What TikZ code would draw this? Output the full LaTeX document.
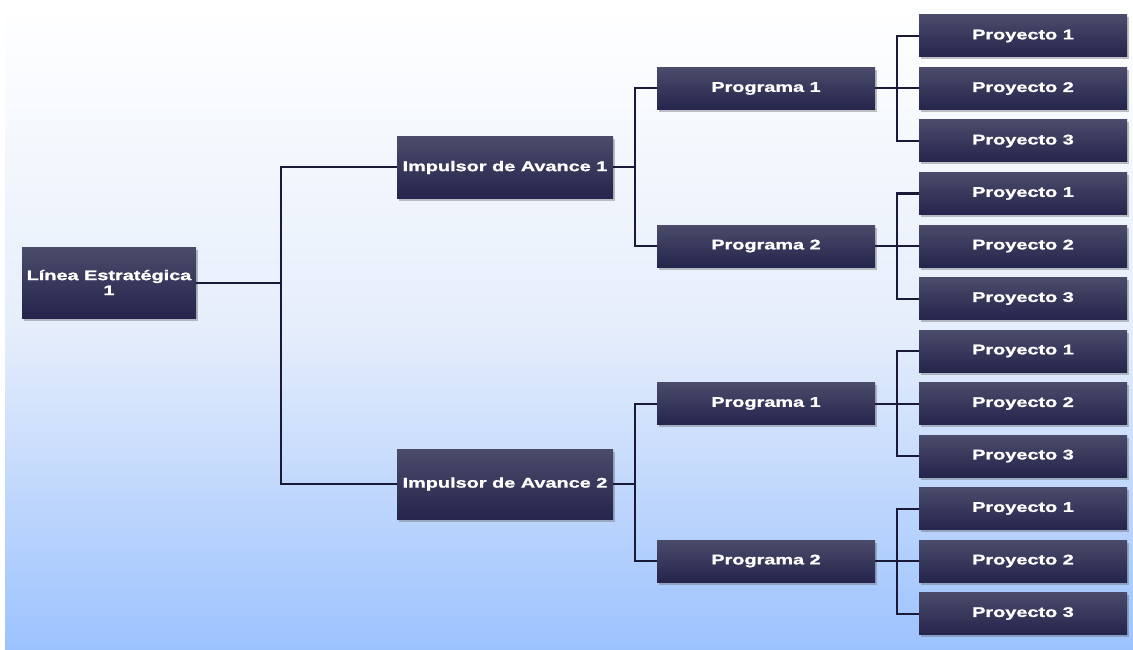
\documentclass[tikz,border=0pt]{standalone}
\usepackage{fontspec}
\newfontfamily\boxfont{Liberation Sans}[FakeStretch=1.42, BoldFeatures={FakeBold=1.3}]
\usetikzlibrary{shadows}
\definecolor{boxtop}{HTML}{4B4B6B}
\definecolor{boxbot}{HTML}{25254D}
\definecolor{linec}{HTML}{1A1A38}
\definecolor{bgbot}{HTML}{9CC2FE}
\definecolor{bgmid}{HTML}{E6EEFB}
\pgfdeclareverticalshading{bgshade}{100bp}{color(0bp)=(bgbot); color(25bp)=(bgbot); color(50bp)=(bgmid); color(75bp)=(white); color(100bp)=(white)}
\tikzset{
  box/.style={draw=none, top color=boxtop, bottom color=boxbot, text=white,
    font=\boxfont\bfseries\fontsize{14}{15}\selectfont, align=center, inner sep=0pt,
    drop shadow={shadow xshift=1.5pt, shadow yshift=-2.5pt, opacity=0.4, fill=black!60}},
  topbox/.style={box, minimum width=174pt, minimum height=71pt},
  impbox/.style={box, minimum width=216pt},
  progbox/.style={box, minimum width=218pt, minimum height=42pt},
  projbox/.style={box, minimum width=208pt, minimum height=42pt},
  conn/.style={draw=linec, line width=2pt}
}
\begin{document}
\begin{tikzpicture}[x=1pt, y=-1pt]
\useasboundingbox (0,0) rectangle (1133,650);
\fill[white] (0,0) rectangle (1133,650);
\shade[shading=bgshade] (5,3) rectangle (1133,650);
\coordinate (a) at (281,0);
\coordinate (b) at (635,0);
\coordinate (c) at (897,0);
\node[topbox] (L) at (109,282.5) {Línea Estratégica\\1};
\node[impbox, minimum height=61pt] (I1) at (505,167.5) {Impulsor de Avance 1};
\node[impbox, minimum height=70pt] (I2) at (505,484) {Impulsor de Avance 2};
\foreach \i in {1,2}{
  \foreach \j in {1,2}{
    \pgfmathsetmacro\py{88.5+157.5*(2*(\i-1)+\j-1)}
    \node[progbox] (P\i\j) at (766,\py) {Programa \j};
    \foreach \k in {1,2,3}{
      \pgfmathsetmacro\qy{\py+52.5*(\k-2)}
      \node[projbox] (Q\i\j\k) at (1023,\qy) {Proyecto \k};
    }
  }
}
\draw[conn] (L.east) -- (L.east -| a);
\draw[conn] (I1.west) -- (I1.west -| a) -- (I2.west -| a) -- (I2.west);
\foreach \i in {1,2}{
  \draw[conn] (I\i.east) -- (I\i.east -| b);
  \draw[conn] (P\i1.west) -- (P\i1.west -| b) -- (P\i2.west -| b) -- (P\i2.west);
  \foreach \j in {1,2}{
    \draw[conn] (P\i\j.east) -- (P\i\j.east -| c);
    \draw[conn] (Q\i\j1.west) -- (Q\i\j1.west -| c) -- (Q\i\j3.west -| c) -- (Q\i\j3.west);
    \draw[conn] (Q\i\j2.west) -- (Q\i\j2.west -| c);
  }
}
\end{tikzpicture}
\end{document}
